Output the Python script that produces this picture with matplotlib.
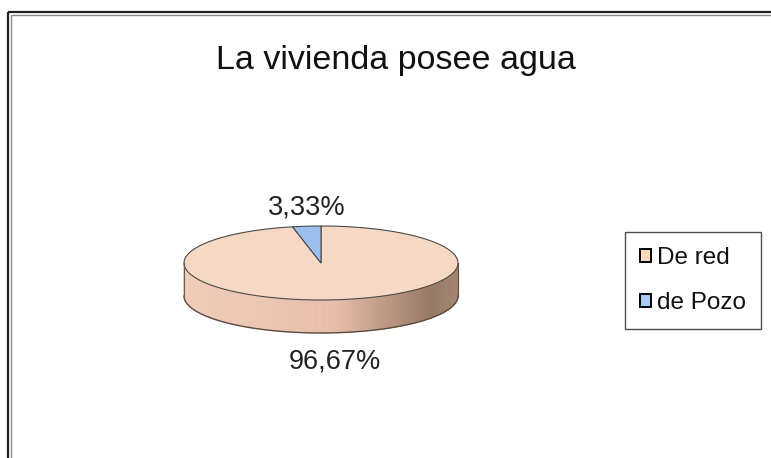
import matplotlib
matplotlib.use("Agg")
import matplotlib.pyplot as plt
import numpy as np
from matplotlib.patches import Polygon, Rectangle

plt.rcParams["font.family"] = ["Liberation Sans", "DejaVu Sans"]

TITLE = "La vivienda posee agua"
CATEGORIES = ["De red", "de Pozo"]
VALUES = [96.67, 3.33]
LABELS = ["96,67%", "3,33%"]

TOP_COLORS = ["#f6d8c4", "#9dbff0"]
LEGEND_COLORS = ["#fcd9b8", "#a9ccf5"]

# pie geometry in pixel units
CX, CY = 321, 263
A, B = 137, 37
DEPTH = 33


def ell(t):
    return CX + A * np.cos(t), CY - B * np.sin(t)


def side_color(t):
    # t in [pi, 2pi]; light on the left, brown towards the right
    x = np.cos(t)
    light = np.array([240, 206, 186]) / 255
    mid = np.array([232, 190, 170]) / 255
    dark = np.array([150, 121, 101]) / 255
    edge = np.array([162, 134, 114]) / 255
    if x < 0.1:
        f = (x + 1) / 1.1
        return light * (1 - f) + mid * f
    if x < 0.8:
        f = (x - 0.1) / 0.7
        return mid * (1 - f) + dark * f
    f = (x - 0.8) / 0.2
    return dark * (1 - f) + edge * f


fig = plt.figure(figsize=(7.71, 4.58), dpi=100)
ax = fig.add_axes([0, 0, 1, 1])
ax.set_xlim(0, 771)
ax.set_ylim(458, 0)
ax.axis("off")

# outer frame (runs off the right and bottom)
ax.add_patch(Rectangle((7.5, 11.5), 800, 500, fill=False, ec="#222222", lw=1.6))
ax.add_patch(Rectangle((10.5, 14.5), 800, 500, fill=False, ec="#8a8a8a", lw=1.0))

ax.text(396, 60, TITLE, ha="center", va="center", fontsize=24.5, color="#111111")

# side of the pie (front half), in thin strips for shading
ts = np.linspace(np.pi, 2 * np.pi, 160)
for t0, t1 in zip(ts[:-1], ts[1:]):
    x0, y0 = ell(t0)
    x1, y1 = ell(t1)
    c = side_color((t0 + t1) / 2)
    ax.add_patch(Polygon([(x0, y0), (x1, y1), (x1, y1 + DEPTH), (x0, y0 + DEPTH)],
                         closed=True, fc=c, ec=c, lw=0.6))
bx, by = ell(ts)
ax.plot(bx, by + DEPTH, color="#5a4a40", lw=1.0)
ax.plot([CX - A, CX - A], [CY, CY + DEPTH], color="#6a5a50", lw=0.8)
ax.plot([CX + A, CX + A], [CY, CY + DEPTH], color="#5a4a40", lw=0.8)

# top faces, clockwise from 12 o'clock
total = sum(VALUES)
start = 90.0
mids = []
for val, col in zip(VALUES, TOP_COLORS):
    sweep = 360.0 * val / total
    end = start - sweep
    tt = np.radians(np.linspace(start, end, 300))
    xs, ys = ell(tt)
    pts = [(CX, CY)] + list(zip(xs, ys))
    ax.add_patch(Polygon(pts, closed=True, fc=col, ec="#4a4a4a", lw=0.8))
    mids.append(np.radians((start + end) / 2))
    start = end

# percentage labels outside the slices
for m, lab in zip(mids, LABELS):
    lx, ly = ell(m)
    if np.sin(m) >= 0:
        ly -= 19
    else:
        ly += DEPTH + 29
    ax.text(lx, ly, lab, ha="center", va="center", fontsize=19.5, color="#222222")

handles = [Rectangle((0, 0), 1, 1, fc=c, ec="black", lw=1.4) for c in LEGEND_COLORS]
leg = ax.legend(handles, CATEGORIES, loc="center left", bbox_to_anchor=(0.8106, 0.3875),
                bbox_transform=fig.transFigure, fontsize=17.5, frameon=True, fancybox=False,
                handlelength=0.45, handleheight=0.45, handletextpad=0.25,
                labelspacing=0.92, borderpad=0.62, borderaxespad=0)
leg.get_frame().set_edgecolor("#222222")
leg.get_frame().set_linewidth(1.0)
for t in leg.get_texts():
    t.set_color("#111111")

fig.savefig("out.png", dpi=100)
